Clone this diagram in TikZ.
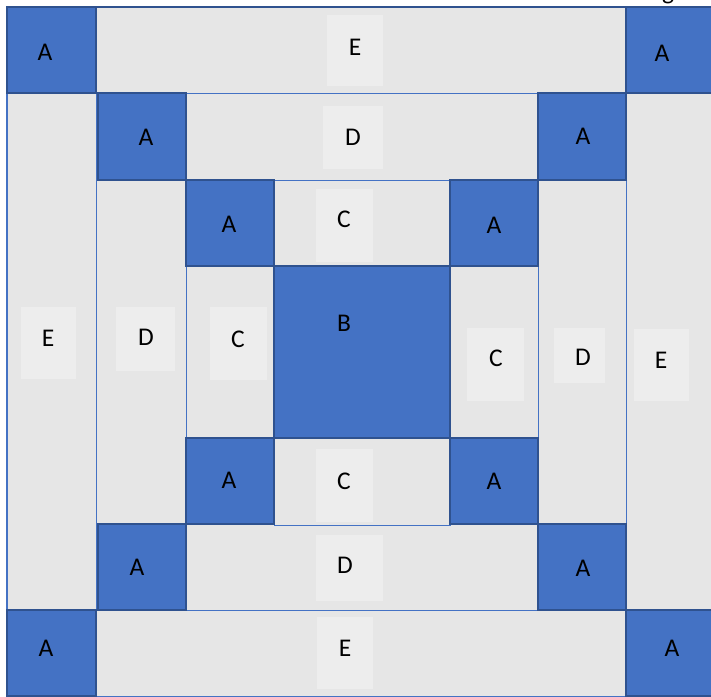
\documentclass[tikz,border=0pt]{standalone}
\usepackage{fontspec}
\setmainfont{Carlito}
\definecolor{ablue}{HTML}{4472C4}
\definecolor{adark}{HTML}{2F528F}
\definecolor{band}{HTML}{E6E6E6}
\definecolor{lbl}{HTML}{EDEDED}
\begin{document}
\begin{tikzpicture}[x=1pt,y=-1pt,
  font=\fontsize{25.5}{30}\selectfont,
  bandbox/.style={fill=band, draw=ablue, line width=0.8pt},
  ablock/.style={fill=ablue, draw=adark, line width=2pt},
  lblbox/.style={fill=lbl},
  lab/.style={inner sep=0pt, text=black}]
\useasboundingbox (0,0) rectangle (711,696);
\fill[white] (0,0) rectangle (711,696);
% cut-off text fragment at the top
\node[lab, anchor=base] (frag) at (668,-1) {g};
% E ring
\draw[bandbox] (96,7) rectangle (626,93);
\draw[bandbox] (96,610) rectangle (626,696);
\draw[bandbox] (7,93) rectangle (96,610);
\draw[bandbox] (626,93) rectangle (716,610);
\draw[adark, line width=1.5pt] (7,7) -- (716,7);
\draw[ablue, line width=1.5pt] (7,7) -- (7,696);
% D ring
\draw[bandbox] (186,93) rectangle (538,180);
\draw[bandbox] (186,524) rectangle (538,610);
\draw[bandbox] (96,180) rectangle (186,523);
\draw[bandbox] (538,180) rectangle (626,524);
% C ring
\draw[bandbox] (274,180) rectangle (450,266);
\draw[bandbox] (274,438) rectangle (450,525);
\draw[bandbox] (186,266) rectangle (274,438);
\draw[bandbox] (450,266) rectangle (538,438);
% label boxes
\fill[lblbox] (327,15) rectangle (383,86);
\fill[lblbox] (323,106) rectangle (383,169);
\fill[lblbox] (316,189) rectangle (373,262);
\fill[lblbox] (21,307) rectangle (76,379);
\fill[lblbox] (116,307) rectangle (175,371);
\fill[lblbox] (210,307) rectangle (267,380);
\fill[lblbox] (467,328) rectangle (524,401);
\fill[lblbox] (554,328) rectangle (605,383);
\fill[lblbox] (634,329) rectangle (689,401);
\fill[lblbox] (316,449) rectangle (373,522);
\fill[lblbox] (316,535) rectangle (383,601);
\fill[lblbox] (317,617) rectangle (373,689);
% B
\draw[ablock] (274,266) rectangle (450,438);
% A squares
\draw[ablock] (7,7) rectangle (96,93);
\draw[ablock] (626,7) rectangle (716,93);
\draw[ablock] (7,610) rectangle (96,696);
\draw[ablock] (626,610) rectangle (716,696);
\draw[ablock] (98,93) rectangle (186,180);
\draw[ablock] (538,93) rectangle (626,180);
\draw[ablock] (98,524) rectangle (186,610);
\draw[ablock] (538,524) rectangle (626,610);
\draw[ablock] (186,180) rectangle (274,266);
\draw[ablock] (450,180) rectangle (538,266);
\draw[ablock] (186,438) rectangle (274,524);
\draw[ablock] (450,438) rectangle (538,524);
% labels
\node[lab] (eT) at (355,47) {E};
\node[lab] (dT) at (353,137) {D};
\node[lab] (cT) at (344,219) {C};
\node[lab] (eL) at (48,338) {E};
\node[lab] (dL) at (146,337) {D};
\node[lab] (cL) at (238,339) {C};
\node[lab] (b) at (344,323) {B};
\node[lab] (cR) at (496,358) {C};
\node[lab] (dR) at (583,357) {D};
\node[lab] (eR) at (661,360) {E};
\node[lab] (cB) at (344,481) {C};
\node[lab] (dB) at (345,565) {D};
\node[lab] (eB) at (345,648) {E};
\node[lab] (a1) at (45,52) {A};
\node[lab] (a2) at (662,53) {A};
\node[lab] (a3) at (46,648) {A};
\node[lab] (a4) at (672,648) {A};
\node[lab] (a5) at (146,137) {A};
\node[lab] (a6) at (583,136) {A};
\node[lab] (a7) at (137,567) {A};
\node[lab] (a8) at (583,568) {A};
\node[lab] (a9) at (229,224) {A};
\node[lab] (a10) at (494,225) {A};
\node[lab] (a11) at (229,480) {A};
\node[lab] (a12) at (494,481) {A};
\end{tikzpicture}
\end{document}
